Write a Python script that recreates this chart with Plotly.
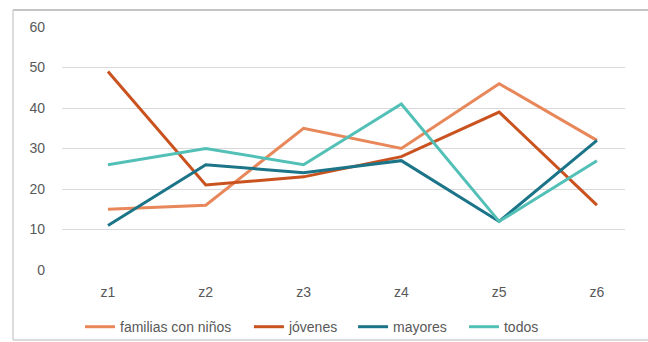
import plotly.graph_objects as go

zonas = ["z1", "z2", "z3", "z4", "z5", "z6"]
familias = [15, 16, 35, 30, 46, 32]
jovenes = [49, 21, 23, 28, 39, 16]
mayores = [11, 26, 24, 27, 12, 32]
todos = [26, 30, 26, 41, 12, 27]

series = [
    ("familias con niños", familias, "#E8875A"),
    ("jóvenes", jovenes, "#C9521F"),
    ("mayores", mayores, "#1B7487"),
    ("todos", todos, "#52C0B6"),
]

# one legend box per series so each entry can be placed on its own
legend_x = [0.032, 0.332, 0.517, 0.714]
legend_ids = ["legend", "legend2", "legend3", "legend4"]

fig = go.Figure()
for (name, vals, color), lid in zip(series, legend_ids):
    fig.add_trace(go.Scatter(
        x=zonas, y=vals, name=name, mode="lines",
        line=dict(color=color, width=3), legend=lid,
    ))

legend_common = dict(orientation="h", xanchor="left", y=-0.235, yanchor="middle",
                     font=dict(size=14, color="#595959"), itemwidth=30,
                     bgcolor="rgba(0,0,0,0)")

# outer frame, in pixel coordinates of the 648x342 figure
frame_left, frame_top, frame_bottom, frame_right = 13, 10, 340, 660
plot_l, plot_t, plot_w, plot_h = 62, 27, 563, 243


def px_to_paper_x(px):
    return (px - plot_l) / plot_w


def px_to_paper_y(py):
    return (plot_t + plot_h - py) / plot_h


fx0, fx1 = px_to_paper_x(frame_left), px_to_paper_x(frame_right)
fy0, fy1 = px_to_paper_y(frame_bottom), px_to_paper_y(frame_top)

fig.update_layout(
    width=648, height=342,
    margin=dict(l=plot_l, r=648 - plot_l - plot_w, t=plot_t, b=342 - plot_t - plot_h,
                autoexpand=False),
    paper_bgcolor="white", plot_bgcolor="white",
    font=dict(family="Liberation Sans, Arial, sans-serif", size=14, color="#595959"),
    showlegend=True,
    xaxis=dict(type="category", range=[-0.47, 5.287], showgrid=False, showline=False,
               zeroline=False, ticks="", ticklabelstandoff=12),
    yaxis=dict(range=[0, 60], dtick=10, showgrid=True, gridcolor="#d9d9d9", gridwidth=1,
               zeroline=False, showline=False, ticks="", ticklabelstandoff=16),
    shapes=[
        dict(type="line", xref="paper", yref="paper", x0=fx0, x1=fx1, y0=fy1, y1=fy1,
             line=dict(color="#c4c4c4", width=2)),
        dict(type="line", xref="paper", yref="paper", x0=fx0, x1=fx1, y0=fy0, y1=fy0,
             line=dict(color="#d0d0d0", width=1.5)),
        dict(type="line", xref="paper", yref="paper", x0=fx0, x1=fx0, y0=fy0, y1=fy1,
             line=dict(color="#d0d0d0", width=1.5)),
    ],
)
for lid, lx in zip(legend_ids, legend_x):
    fig.update_layout({lid: dict(legend_common, x=lx)})

fig.write_html("out.html", config={"displayModeBar": False})
